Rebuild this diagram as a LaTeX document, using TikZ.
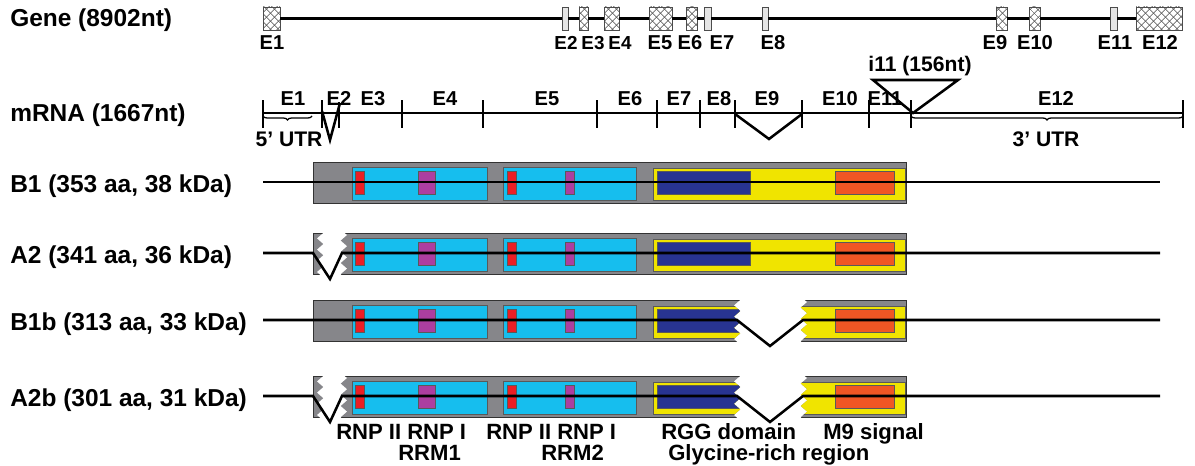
\documentclass[tikz,border=0pt]{standalone}
\usepackage{fontspec}
\setmainfont{Liberation Sans}
\usetikzlibrary{patterns.meta,decorations.pathreplacing,decorations.pathmorphing}

\definecolor{protgrey}{RGB}{134,134,138}
\definecolor{rrmcyan}{RGB}{22,190,238}
\definecolor{rnpred}{RGB}{236,30,36}
\definecolor{rnppurple}{RGB}{172,62,160}
\definecolor{glyyellow}{RGB}{240,228,0}
\definecolor{rggblue}{RGB}{40,52,146}
\definecolor{msignal}{RGB}{240,86,36}

\tikzset{
	rowlabel/.style={anchor=base west, inner sep=0pt, font=\fontsize{17.4}{20}\selectfont\bfseries},
	exlabel/.style={anchor=base, inner sep=0pt, font=\fontsize{14.3}{16}\selectfont\bfseries},
	domlabel/.style={anchor=base west, inner sep=0pt, font=\fontsize{15.7}{18}\selectfont\bfseries},
	exon/.style={rectangle, draw=black!70, line width=0.6pt, inner sep=0pt, minimum height=0.575cm, fill=white,
		postaction={pattern={Lines[angle=45,distance=4pt,line width=0.5pt]}, pattern color=black!70},
		postaction={pattern={Lines[angle=-45,distance=4pt,line width=0.5pt]}, pattern color=black!70}},
	altexon/.style={rectangle, draw=black!70, line width=0.6pt, inner sep=0pt, minimum height=0.575cm, fill=black!10},
	dom/.style={draw=black!65, line width=0.6pt},
	jag/.style={decoration={zigzag, segment length=0.28cm, amplitude=0.08cm}},
}

% all domains of the full length isoform, row line at y = 0
\newcommand{\domains}{%
	\filldraw[dom, fill=protgrey, draw=black!80] (313,-20) rectangle (906,21);
	\filldraw[dom, fill=rrmcyan] (352,-15) rectangle (487,18);
	\filldraw[dom, fill=rrmcyan] (503,-15) rectangle (636,18);
	\filldraw[dom, fill=glyyellow] (653,-14) rectangle (905,18);
	\filldraw[dom, fill=rnpred] (355,-11) rectangle (364,12);
	\filldraw[dom, fill=rnpred] (507,-11) rectangle (516,12);
	\filldraw[dom, fill=rnppurple] (418,-11) rectangle (435,12);
	\filldraw[dom, fill=rnppurple] (565,-11) rectangle (574,12);
	\filldraw[dom, fill=rggblue] (657,-11) rectangle (750,12);
	\filldraw[dom, fill=msignal] (835,-11) rectangle (894,12);
}

\begin{document}
\begin{tikzpicture}[x=0.025cm, y=-0.025cm, line width=1.8pt]
	\useasboundingbox (0,0) rectangle (1195,466);

	% gene
	\node (gene) at (9,27)	[rowlabel]	{Gene (8902nt)};
	\node (ge1)  at (271.5,18.5)	[exon, minimum width=0.425cm]	{};
	\node (ge2)  at (565,18.5)	[altexon, minimum width=0.15cm]	{};
	\node (ge3)  at (583.5,18.5)	[exon, minimum width=0.225cm]	{};
	\node (ge4)  at (611.5,18.5)	[exon, minimum width=0.375cm]	{};
	\node (ge5)  at (660.5,18.5)	[exon, minimum width=0.575cm]	{};
	\node (ge6)  at (691.5,18.5)	[exon, minimum width=0.275cm]	{};
	\node (ge7)  at (707.5,18.5)	[altexon, minimum width=0.175cm]	{};
	\node (ge8)  at (765,18.5)	[altexon, minimum width=0.15cm]	{};
	\node (ge9)  at (1001.5,18.5)	[exon, minimum width=0.275cm]	{};
	\node (ge10) at (1034.5,18.5)	[exon, minimum width=0.275cm]	{};
	\node (ge11) at (1113.5,18.5)	[altexon, minimum width=0.175cm]	{};
	\node (ge12) at (1159,18.5)	[exon, minimum width=1.15cm]	{};
	\draw (ge1) -- (ge2) -- (ge3) -- (ge4) -- (ge5) -- (ge6) -- (ge7) -- (ge8) -- (ge9) -- (ge10) -- (ge11) -- (ge12);
	\node (gl1)  at (272,50)	[exlabel]	{E1};
	\node (gl2)  at (566,50)	[exlabel, font=\fontsize{13.4}{15}\selectfont\bfseries]	{E2};
	\node (gl3)  at (593,50)	[exlabel, font=\fontsize{13.4}{15}\selectfont\bfseries]	{E3};
	\node (gl4)  at (620,50)	[exlabel, font=\fontsize{13.4}{15}\selectfont\bfseries]	{E4};
	\node (gl5)  at (660,50)	[exlabel]	{E5};
	\node (gl6)  at (690,50)	[exlabel]	{E6};
	\node (gl7)  at (722,50)	[exlabel]	{E7};
	\node (gl8)  at (773,50)	[exlabel]	{E8};
	\node (gl9)  at (995,50)	[exlabel]	{E9};
	\node (gl10) at (1035,50)	[exlabel]	{E10};
	\node (gl11) at (1115,50)	[exlabel]	{E11};
	\node (gl12) at (1160,50)	[exlabel]	{E12};

	% mRNA
	\node (mrna) at (9,121)	[rowlabel]	{mRNA (1667nt)};
	\coordinate (ms) at (263,113);
	\coordinate (me) at (1183,113);
	\draw (ms) -- (me);
	\foreach \x in {263,322,402,483,597,657,700,735,802,869,911,1183}
		\draw (\x,100) -- (\x,128);
	\draw (339,102) -- (339,128);
	\draw (322,111) -- (330,140) -- (340,103);
	\draw (735,114) -- (769,139) -- (802,114);
	\draw (873,80) -- (958,80) -- (913,113) -- cycle;
	\node (ml1)  at (293,105.5)	[exlabel]	{E1};
	\node (ml2)  at (339,105.5)	[exlabel]	{E2};
	\node (ml3)  at (373,105.5)	[exlabel]	{E3};
	\node (ml4)  at (445,105.5)	[exlabel]	{E4};
	\node (ml5)  at (547,105.5)	[exlabel]	{E5};
	\node (ml6)  at (630,105.5)	[exlabel]	{E6};
	\node (ml7)  at (679,105.5)	[exlabel]	{E7};
	\node (ml8)  at (719,105.5)	[exlabel]	{E8};
	\node (ml9)  at (767,105.5)	[exlabel]	{E9};
	\node (ml10) at (840,105.5)	[exlabel]	{E10};
	\node (ml11) at (885,105.5)	[exlabel]	{E11};
	\node (ml12) at (1056,105.5)	[exlabel]	{E12};
	\node (i11)  at (920,72)	[exlabel, font=\fontsize{15}{17}\selectfont\bfseries]	{i11 (156nt)};
	\draw[decorate, decoration={brace, mirror, amplitude=0.1cm}, line width=0.9pt] (263,116) -- (312,116);
	\draw[decorate, decoration={brace, mirror, amplitude=0.1cm}, line width=0.9pt] (911,116) -- (1183,116);
	\node (utr5) at (289,146)	[exlabel, font=\fontsize{15}{17}\selectfont\bfseries]	{5' UTR};
	\node (utr3) at (1046,146)	[exlabel, font=\fontsize{15}{17}\selectfont\bfseries]	{3' UTR};

	% B1
	\node (b1) at (9,192)	[rowlabel]	{B1 (353 aa, 38 kDa)};
	\begin{scope}[shift={(0,182)}]
		\domains
		\draw (263,0) -- (1160,0);
	\end{scope}

	% A2
	\node (a2) at (9,263)	[rowlabel]	{A2 (341 aa, 36 kDa)};
	\begin{scope}[shift={(0,253)}, jag]
		\begin{scope}
			\clip (311,-23) -- (320,-23) decorate {-- (320,24)} -- (311,24) -- cycle
				(344,-23) -- (908,-23) -- (908,24) -- (344,24) decorate {-- (344,-23)} -- cycle;
			\domains
		\end{scope}
		\draw (263,0) -- (313,0) -- (330,26) -- (342,0) -- (1160,0);
	\end{scope}

	% B1b
	\node (b1b) at (9,330)	[rowlabel]	{B1b (313 aa, 33 kDa)};
	\begin{scope}[shift={(0,320)}, jag]
		\begin{scope}
			\clip (311,-23) -- (737,-23) decorate {-- (737,24)} -- (311,24) -- cycle
				(804,-23) -- (908,-23) -- (908,24) -- (804,24) decorate {-- (804,-23)} -- cycle;
			\domains
		\end{scope}
		\draw (263,0) -- (737,0) -- (770,26) -- (803,0) -- (1160,0);
	\end{scope}

	% A2b
	\node (a2b) at (9,406)	[rowlabel]	{A2b (301 aa, 31 kDa)};
	\begin{scope}[shift={(0,396)}, jag]
		\begin{scope}
			\clip (311,-23) -- (320,-23) decorate {-- (320,24)} -- (311,24) -- cycle
				(344,-23) -- (737,-23) decorate {-- (737,24)} -- (344,24) decorate {-- (344,-23)} -- cycle
				(804,-23) -- (908,-23) -- (908,24) -- (804,24) decorate {-- (804,-23)} -- cycle;
			\domains
		\end{scope}
		\draw (263,0) -- (313,0) -- (330,26) -- (342,0) -- (737,0) -- (770,26) -- (803,0) -- (1160,0);
	\end{scope}

	% domain names
	\node (rnp2a) at (335,439)	[domlabel]	{RNP II};
	\node (rnp1a) at (406,439)	[domlabel]	{RNP I};
	\node (rrm1)  at (397,460)	[domlabel]	{RRM1};
	\node (rnp2b) at (485,439)	[domlabel]	{RNP II};
	\node (rnp1b) at (556,439)	[domlabel]	{RNP I};
	\node (rrm2)  at (540,460)	[domlabel]	{RRM2};
	\node (rgg)   at (660,439)	[domlabel]	{RGG domain};
	\node (m9)    at (822,439)	[domlabel]	{M9 signal};
	\node (gly)   at (667,460)	[domlabel]	{Glycine-rich region};
\end{tikzpicture}
\end{document}
